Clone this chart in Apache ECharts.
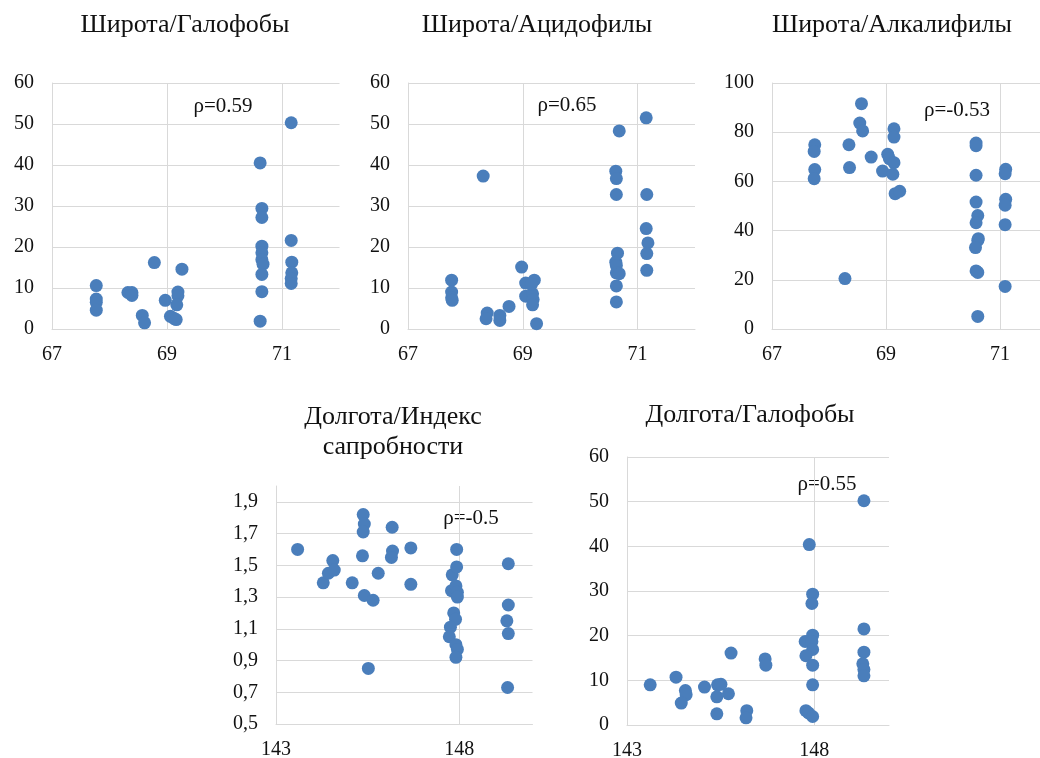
<!DOCTYPE html>
<html>
<head>
<meta charset="utf-8">
<script src="https://cdn.jsdelivr.net/npm/echarts@6/dist/echarts.min.js"></script>
<style>
  html, body { margin: 0; padding: 0; background: #fff; }
  #chart { width: 1040px; height: 758px; }
</style>
</head>
<body>
<div id="chart"></div>
<script>
// Широта / Галофобы
const lat1 = [67.77, 67.77, 67.77, 67.77, 68.32, 68.39, 68.39, 68.57, 68.61, 68.78, 68.97, 69.06, 69.12, 69.16, 69.19, 69.19, 69.17, 69.26, 70.62, 70.65, 70.65, 70.65, 70.65, 70.65, 70.67, 70.65, 70.65, 70.62, 71.16, 71.16, 71.17, 71.17, 71.16, 71.16];
const halophobes1 = [10.6, 7.3, 6.5, 4.6, 8.9, 8.9, 8.2, 3.3, 1.5, 16.2, 7.0, 3.1, 2.6, 2.3, 9.0, 8.1, 5.9, 14.6, 40.5, 29.4, 27.2, 20.2, 18.6, 16.9, 15.8, 13.3, 9.1, 1.9, 50.3, 21.6, 16.3, 13.7, 12.3, 11.1];

// Широта / Ацидофилы
const lat2 = [67.76, 67.76, 67.76, 67.77, 68.31, 68.38, 68.36, 68.6, 68.6, 68.76, 68.98, 69.05, 69.05, 69.2, 69.17, 69.18, 69.17, 69.24, 69.15, 70.68, 70.62, 70.63, 70.63, 70.65, 70.62, 70.63, 70.63, 70.68, 70.63, 70.63, 71.15, 71.16, 71.15, 71.18, 71.16, 71.16];
const acidophiles2 = [11.9, 9.0, 7.6, 7.0, 37.3, 3.9, 2.5, 3.3, 2.1, 5.5, 15.1, 11.2, 8.0, 11.9, 8.6, 7.2, 5.9, 1.3, 10.9, 48.3, 38.5, 36.7, 32.8, 18.5, 16.3, 15.5, 13.7, 13.5, 10.5, 6.6, 51.5, 32.8, 24.5, 21.0, 18.4, 14.3];

// Широта / Алкалифилы
const lat3 = [67.75, 67.74, 67.75, 67.74, 68.28, 68.35, 68.36, 68.57, 68.54, 68.59, 68.74, 68.94, 69.03, 69.06, 69.14, 69.14, 69.14, 69.12, 69.16, 69.24, 70.58, 70.58, 70.58, 70.58, 70.61, 70.58, 70.62, 70.61, 70.57, 70.58, 70.61, 70.61, 71.1, 71.09, 71.1, 71.09, 71.09, 71.09];
const alkaliphiles3 = [74.9, 72.2, 64.8, 61.1, 20.5, 74.9, 65.6, 91.6, 83.7, 80.5, 69.9, 64.2, 71.0, 69.2, 67.6, 81.4, 78.0, 62.9, 55.0, 56.0, 75.6, 74.5, 62.5, 51.6, 46.1, 43.2, 36.7, 36.0, 33.1, 23.6, 23.0, 5.1, 64.9, 63.1, 52.7, 50.3, 42.4, 17.3];

// Долгота / Индекс сапробности
const lon4 = [143.59, 144.29, 144.43, 144.55, 144.59, 145.08, 145.38, 145.41, 145.38, 145.36, 145.41, 145.65, 145.52, 145.79, 146.17, 146.18, 146.15, 146.68, 146.68, 147.79, 147.81, 147.93, 147.93, 147.91, 147.95, 147.95, 147.85, 147.9, 147.76, 147.73, 147.91, 147.95, 147.91, 149.34, 149.34, 149.3, 149.34, 149.32];
const saprobity4 = [1.6, 1.39, 1.45, 1.53, 1.47, 1.39, 1.82, 1.76, 1.71, 1.56, 1.31, 1.28, 0.85, 1.45, 1.74, 1.59, 1.55, 1.61, 1.38, 1.34, 1.44, 1.6, 1.49, 1.37, 1.33, 1.3, 1.2, 1.16, 1.11, 1.05, 1.0, 0.97, 0.92, 1.51, 1.25, 1.15, 1.07, 0.73];

// Долгота / Галофобы
const lon5 = [143.62, 144.31, 144.56, 144.58, 144.45, 145.07, 145.42, 145.51, 145.4, 145.71, 145.4, 145.78, 146.2, 146.18, 146.69, 146.71, 147.87, 147.96, 147.94, 147.96, 147.76, 147.94, 147.96, 147.78, 147.96, 147.96, 147.78, 147.85, 147.96, 149.33, 149.33, 149.33, 149.3, 149.33, 149.33];
const halophobes5 = [9.0, 10.7, 7.7, 6.8, 4.9, 8.5, 9.0, 9.1, 6.3, 7.0, 2.5, 16.1, 3.2, 1.6, 14.8, 13.4, 40.4, 29.3, 27.2, 20.1, 18.7, 18.7, 16.9, 15.5, 13.4, 9.0, 3.2, 2.7, 1.9, 50.2, 21.5, 16.3, 13.7, 12.4, 11.0];

const titles = ['Широта/Галофобы', 'Широта/Ацидофилы', 'Широта/Алкалифилы', 'Долгота/Индекс\nсапробности', 'Долгота/Галофобы'];
const rhoLabels = ['ρ=0.59', 'ρ=0.65', 'ρ=-0.53', 'ρ=-0.5', 'ρ=0.55'];

const panels = [
  { x: lat1, y: halophobes1 },
  { x: lat2, y: acidophiles2 },
  { x: lat3, y: alkaliphiles3 },
  { x: lon4, y: saprobity4 },
  { x: lon5, y: halophobes5 }
];

const FONT = "'Liberation Serif', 'Times New Roman', serif";
const GRID_COLOR = '#d9d9d9';
const DOT_COLOR = '#4a7ebb';

const grids = [
  { left: 52, top: 83, width: 287.5, height: 246 },
  { left: 408, top: 83, width: 287, height: 246 },
  { left: 772, top: 83, width: 285, height: 246 },
  { left: 276, top: 486, width: 256.5, height: 238 },
  { left: 627, top: 457, width: 262, height: 268 }
].map(g => Object.assign({ containLabel: false, outerBoundsMode: 'none' }, g));

const xRanges = [
  { min: 67, max: 72, interval: 2 },
  { min: 67, max: 72, interval: 2 },
  { min: 67, max: 72, interval: 2 },
  { min: 143, max: 150, interval: 5 },
  { min: 143, max: 150, interval: 5 }
];
const yRanges = [
  { min: 0, max: 60, interval: 10, topLine: true, comma: false },
  { min: 0, max: 60, interval: 10, topLine: true, comma: false },
  { min: 0, max: 100, interval: 20, topLine: true, comma: false },
  { min: 0.5, max: 2.0, interval: 0.2, topLine: false, comma: true },
  { min: 0, max: 60, interval: 10, topLine: true, comma: false }
];

const labelStyle = { color: '#111', fontFamily: FONT, fontSize: 20 };

const xAxes = xRanges.map((r, i) => ({
  type: 'value', gridIndex: i, min: r.min, max: r.max, interval: r.interval,
  axisLine: { show: true, onZero: false, lineStyle: { color: GRID_COLOR, width: 1 } },
  axisTick: { show: false },
  axisLabel: Object.assign({ margin: 16, showMinLabel: true, showMaxLabel: false, hideOverlap: false }, labelStyle),
  splitLine: { show: true, showMinLine: false, showMaxLine: false, lineStyle: { color: GRID_COLOR, width: 1 } }
}));

const yAxes = yRanges.map((r, i) => ({
  type: 'value', gridIndex: i, min: r.min, max: r.max, interval: r.interval,
  axisLine: { show: true, onZero: false, lineStyle: { color: GRID_COLOR, width: 1 } },
  axisTick: { show: false },
  axisLabel: Object.assign({
    margin: 18, showMinLabel: true, showMaxLabel: r.topLine, hideOverlap: false,
    formatter: v => r.comma ? v.toFixed(1).replace('.', ',') : String(Math.round(v))
  }, labelStyle),
  splitLine: { show: true, showMinLine: false, showMaxLine: r.topLine, lineStyle: { color: GRID_COLOR, width: 1 } }
}));

const series = panels.map((p, i) => ({
  type: 'scatter', xAxisIndex: i, yAxisIndex: i,
  symbol: 'circle', symbolSize: 13,
  itemStyle: { color: DOT_COLOR, opacity: 1 },
  emphasis: { disabled: true },
  data: p.x.map((xv, k) => [xv, p.y[k]])
}));

const titlePos = [
  { left: 185, top: 10 },
  { left: 537, top: 10 },
  { left: 892, top: 10 },
  { left: 393, top: 402 },
  { left: 750, top: 400 }
];
const title = titles.map((t, i) => ({
  text: t, left: titlePos[i].left, top: titlePos[i].top, textAlign: 'center', padding: 0,
  textStyle: { color: '#111', fontFamily: FONT, fontSize: 26, fontWeight: 'normal', lineHeight: 30 }
}));

const rhoPos = [[223, 106], [567, 105], [957, 110], [471, 518], [827, 484]];
const graphic = rhoLabels.map((t, i) => ({
  type: 'text', x: rhoPos[i][0], y: rhoPos[i][1],
  style: { text: t, fill: '#111', font: '21px ' + FONT, align: 'center', verticalAlign: 'middle' }
}));

const chart = echarts.init(document.getElementById('chart'), null, { renderer: 'canvas' });
chart.setOption({
  animation: false,
  backgroundColor: '#fff',
  title: title,
  grid: grids,
  xAxis: xAxes,
  yAxis: yAxes,
  series: series,
  graphic: graphic
});
</script>
</body>
</html>
